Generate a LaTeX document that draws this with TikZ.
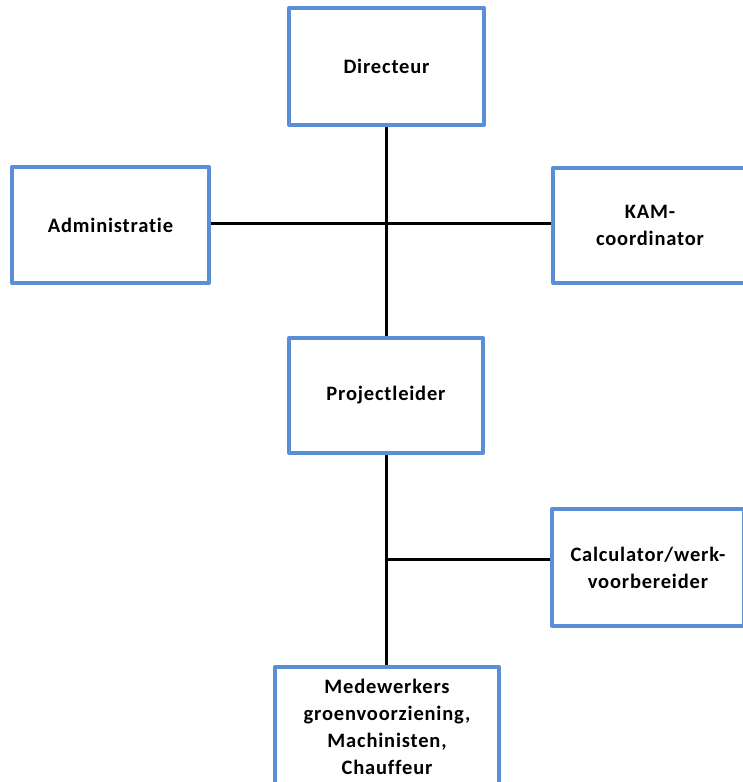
\documentclass[tikz,border=0pt]{standalone}
\usepackage{fontspec}
\setmainfont{Carlito}[LetterSpace=4, Ligatures={NoCommon, NoRare}]
\definecolor{boxblue}{HTML}{5A8FD6}
\begin{document}
\begin{tikzpicture}[x=1pt,y=-1pt,
  orgbox/.style={draw=boxblue, line width=4pt, fill=white, line join=round,
    align=center, inner sep=0pt,
    font=\fontsize{20.5}{27}\selectfont\bfseries},
  link/.style={draw=black, line width=3pt}]
\useasboundingbox (0,0) rectangle (743,782);
\clip (0,0) rectangle (743,782);
\node[orgbox, minimum width=195pt, minimum height=117pt] (dir) at (386.5,66.5) {Directeur};
\node[orgbox, minimum width=197pt, minimum height=116pt] (adm) at (110.5,225) {Administratie};
\node[orgbox, minimum width=194pt, minimum height=115pt] (kam) at (650,225.5) {KAM-\\coordinator};
\node[orgbox, minimum width=194pt, minimum height=115pt] (proj) at (386,395.5) {Projectleider};
\node[orgbox, minimum width=192pt, minimum height=117pt] (calc) at (648,567.5) {Calculator/werk-\\voorbereider};
\node[orgbox, minimum width=224pt, minimum height=119pt] (med) at (387,726.5) {Medewerkers\\groenvoorziening,\\Machinisten,\\Chauffeur};
\draw[link] (dir.south) -- (dir.south |- proj.north);
\draw[link] ([yshift=2pt]adm.east) -- ([yshift=2pt]adm.east -| kam.west);
\draw[link] (proj.south) -- (proj.south |- med.north);
\draw[link] ([yshift=8.5pt]calc.west) -- ([yshift=8.5pt]calc.west -| proj.south);
\end{tikzpicture}
\end{document}
